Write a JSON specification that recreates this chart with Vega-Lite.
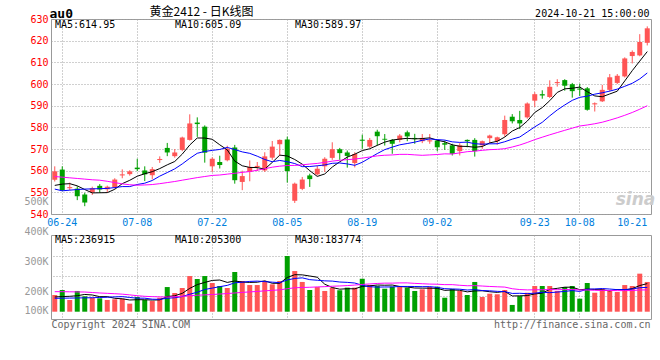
{
  "$schema": "https://vega.github.io/schema/vega-lite/v6.json",
  "padding": {"left": 23, "top": 4, "right": 2, "bottom": 2},
  "background": "white",
  "datasets": {
    "k": [
      {"d":"06-21","o":555.8,"h":562.0,"l":555.0,"c":559.7,"v":141000,"MA5":553.2,"MA10":551.5,"MA30":557.3,"VMA5":124000,"VMA10":113000,"VMA30":169000},
      {"d":"06-24","o":560.5,"h":562.0,"l":550.6,"c":551.0,"v":183000,"MA5":553.8,"MA10":550.7,"MA30":557.0,"VMA5":128000,"VMA10":114000,"VMA30":169000},
      {"d":"06-25","o":551.9,"h":554.5,"l":551.0,"c":552.4,"v":99000,"MA5":554.0,"MA10":551.0,"MA30":556.7,"VMA5":130000,"VMA10":115000,"VMA30":168000},
      {"d":"06-26","o":551.7,"h":552.8,"l":546.4,"c":548.2,"v":175000,"MA5":553.0,"MA10":551.3,"MA30":556.4,"VMA5":135000,"VMA10":116000,"VMA30":167000},
      {"d":"06-27","o":549.0,"h":549.8,"l":543.6,"c":545.3,"v":130000,"MA5":551.3,"MA10":551.5,"MA30":556.1,"VMA5":145600,"VMA10":117000,"VMA30":166000},
      {"d":"06-28","o":550.0,"h":552.6,"l":548.8,"c":551.9,"v":118000,"MA5":549.74,"MA10":551.6,"MA30":555.8,"VMA5":141000,"VMA10":118000,"VMA30":162000},
      {"d":"07-01","o":553.0,"h":553.8,"l":549.8,"c":551.3,"v":113000,"MA5":549.8,"MA10":551.7,"MA30":555.6,"VMA5":127000,"VMA10":120000,"VMA30":158000},
      {"d":"07-02","o":551.4,"h":553.1,"l":550.0,"c":552.6,"v":99000,"MA5":549.86,"MA10":551.8,"MA30":555.1,"VMA5":127000,"VMA10":122000,"VMA30":155000},
      {"d":"07-03","o":552.3,"h":556.5,"l":551.7,"c":555.9,"v":105000,"MA5":551.4,"MA10":552.2,"MA30":554.5,"VMA5":113000,"VMA10":125000,"VMA30":152000},
      {"d":"07-04","o":557.8,"h":560.6,"l":556.5,"c":558.3,"v":110000,"MA5":554.0,"MA10":552.65,"MA30":553.9,"VMA5":109000,"VMA10":127300,"VMA30":148000},
      {"d":"07-05","o":558.4,"h":560.2,"l":557.7,"c":559.7,"v":68000,"MA5":555.56,"MA10":552.65,"MA30":553.5,"VMA5":99000,"VMA10":120000,"VMA30":142000},
      {"d":"07-08","o":561.4,"h":565.5,"l":559.8,"c":560.7,"v":124000,"MA5":557.44,"MA10":553.62,"MA30":553.3,"VMA5":101200,"VMA10":114100,"VMA30":135000},
      {"d":"07-09","o":560.1,"h":562.0,"l":555.2,"c":558.3,"v":99000,"MA5":558.58,"MA10":554.22,"MA30":553.4,"VMA5":101200,"VMA10":114100,"VMA30":130000},
      {"d":"07-10","o":557.9,"h":561.7,"l":556.0,"c":560.7,"v":90000,"MA5":559.54,"MA10":555.47,"MA30":553.6,"VMA5":98200,"VMA10":105600,"VMA30":127000},
      {"d":"07-11","o":564.9,"h":566.6,"l":563.6,"c":565.4,"v":118000,"MA5":560.96,"MA10":557.48,"MA30":554.0,"VMA5":99800,"VMA10":104400,"VMA30":125000},
      {"d":"07-12","o":570.5,"h":572.8,"l":566.7,"c":568.4,"v":208000,"MA5":562.7,"MA10":559.13,"MA30":554.5,"VMA5":127800,"VMA10":113400,"VMA30":124000},
      {"d":"07-15","o":566.7,"h":570.0,"l":566.0,"c":568.4,"v":158000,"MA5":564.24,"MA10":560.84,"MA30":555.0,"VMA5":134600,"VMA10":117900,"VMA30":126000},
      {"d":"07-16","o":569.6,"h":575.7,"l":569.0,"c":575.3,"v":200000,"MA5":567.64,"MA10":563.11,"MA30":555.6,"VMA5":154800,"VMA10":128000,"VMA30":130000},
      {"d":"07-17","o":574.2,"h":586.0,"l":573.9,"c":581.8,"v":301000,"MA5":571.86,"MA10":565.7,"MA30":556.2,"VMA5":197000,"VMA10":147600,"VMA30":135000},
      {"d":"07-18","o":582.2,"h":584.6,"l":575.6,"c":581.5,"v":276000,"MA5":575.08,"MA10":568.02,"MA30":556.8,"VMA5":228600,"VMA10":164200,"VMA30":139000},
      {"d":"07-19","o":580.3,"h":580.9,"l":563.7,"c":568.3,"v":301000,"MA5":575.06,"MA10":568.88,"MA30":557.3,"VMA5":247200,"VMA10":187500,"VMA30":142000},
      {"d":"07-22","o":562.0,"h":566.2,"l":559.4,"c":565.5,"v":242000,"MA5":574.48,"MA10":569.36,"MA30":557.8,"VMA5":264000,"VMA10":199300,"VMA30":145000},
      {"d":"07-23","o":564.0,"h":566.9,"l":561.0,"c":562.6,"v":217000,"MA5":571.94,"MA10":569.79,"MA30":558.0,"VMA5":267400,"VMA10":211100,"VMA30":149000},
      {"d":"07-24","o":564.8,"h":571.5,"l":564.3,"c":570.1,"v":200000,"MA5":569.6,"MA10":570.73,"MA30":558.4,"VMA5":247200,"VMA10":222100,"VMA30":153000},
      {"d":"07-25","o":570.7,"h":571.9,"l":554.0,"c":555.6,"v":335000,"MA5":564.42,"MA10":569.75,"MA30":558.8,"VMA5":259000,"VMA10":243800,"VMA30":158000},
      {"d":"07-26","o":554.8,"h":560.0,"l":551.0,"c":557.5,"v":259000,"MA5":562.26,"MA10":568.66,"MA30":559.2,"VMA5":250600,"VMA10":248900,"VMA30":163000},
      {"d":"07-29","o":559.4,"h":564.7,"l":555.1,"c":561.7,"v":225000,"MA5":561.5,"MA10":567.99,"MA30":559.6,"VMA5":247200,"VMA10":255600,"VMA30":167000},
      {"d":"07-30","o":561.7,"h":564.0,"l":559.8,"c":562.2,"v":225000,"MA5":561.42,"MA10":566.68,"MA30":560.2,"VMA5":248800,"VMA10":258100,"VMA30":171000},
      {"d":"07-31","o":560.1,"h":568.5,"l":559.4,"c":566.6,"v":259000,"MA5":560.72,"MA10":565.16,"MA30":560.9,"VMA5":260600,"VMA10":253900,"VMA30":176000},
      {"d":"08-01","o":566.0,"h":573.7,"l":565.0,"c":571.1,"v":231000,"MA5":563.82,"MA10":564.12,"MA30":561.6,"VMA5":239800,"VMA10":249400,"VMA30":180300},
      {"d":"08-02","o":572.2,"h":574.4,"l":567.0,"c":574.2,"v":259000,"MA5":567.16,"MA10":564.71,"MA30":562.08,"VMA5":239800,"VMA10":245200,"VMA30":184200},
      {"d":"08-05","o":574.4,"h":575.7,"l":554.5,"c":559.8,"v":470000,"MA5":566.78,"MA10":564.14,"MA30":562.37,"VMA5":288800,"VMA10":268000,"VMA30":193800},
      {"d":"08-06","o":546.1,"h":554.5,"l":545.1,"c":554.0,"v":343000,"MA5":565.14,"MA10":563.28,"MA30":562.43,"VMA5":312400,"VMA10":280600,"VMA30":201900},
      {"d":"08-07","o":551.6,"h":557.1,"l":551.0,"c":555.9,"v":251000,"MA5":563.0,"MA10":561.86,"MA30":562.69,"VMA5":310800,"VMA10":285700,"VMA30":204500},
      {"d":"08-08","o":557.8,"h":558.6,"l":552.5,"c":556.1,"v":183000,"MA5":560.0,"MA10":561.91,"MA30":563.05,"VMA5":301200,"VMA10":270500,"VMA30":206200},
      {"d":"08-09","o":558.3,"h":562.3,"l":557.8,"c":560.9,"v":208000,"MA5":557.34,"MA10":562.25,"MA30":563.35,"VMA5":291000,"VMA10":265400,"VMA30":209200},
      {"d":"08-12","o":562.0,"h":566.2,"l":559.4,"c":565.5,"v":175000,"MA5":558.48,"MA10":562.63,"MA30":563.82,"VMA5":232000,"VMA10":260400,"VMA30":211300},
      {"d":"08-13","o":565.9,"h":573.1,"l":565.0,"c":569.9,"v":203000,"MA5":561.66,"MA10":563.4,"MA30":564.4,"VMA5":204000,"VMA10":258200,"VMA30":214800},
      {"d":"08-14","o":569.9,"h":570.5,"l":565.0,"c":568.1,"v":181000,"MA5":564.1,"MA10":563.55,"MA30":564.8,"VMA5":190000,"VMA10":250400,"VMA30":217300},
      {"d":"08-15","o":568.4,"h":569.3,"l":561.4,"c":566.8,"v":203000,"MA5":566.24,"MA10":563.12,"MA30":565.09,"VMA5":194000,"VMA10":247600,"VMA30":220400},
      {"d":"08-16","o":563.5,"h":568.5,"l":561.5,"c":567.7,"v":203000,"MA5":567.6,"MA10":562.47,"MA30":565.35,"VMA5":193000,"VMA10":242000,"VMA30":224900},
      {"d":"08-19","o":574.3,"h":576.6,"l":570.1,"c":573.8,"v":278000,"MA5":569.26,"MA10":563.87,"MA30":565.79,"VMA5":213600,"VMA10":222800,"VMA30":230000},
      {"d":"08-20","o":571.1,"h":575.1,"l":570.5,"c":574.2,"v":225000,"MA5":570.12,"MA10":565.89,"MA30":566.32,"VMA5":218000,"VMA10":211000,"VMA30":234200},
      {"d":"08-21","o":578.0,"h":578.9,"l":571.6,"c":575.9,"v":217000,"MA5":571.68,"MA10":567.89,"MA30":566.83,"VMA5":225200,"VMA10":207600,"VMA30":238500},
      {"d":"08-22","o":574.7,"h":576.9,"l":571.6,"c":574.3,"v":194000,"MA5":573.18,"MA10":569.71,"MA30":567.12,"VMA5":223400,"VMA10":208700,"VMA30":241000},
      {"d":"08-23","o":574.2,"h":574.6,"l":567.8,"c":572.4,"v":211000,"MA5":574.12,"MA10":570.86,"MA30":567.26,"VMA5":225000,"VMA10":209000,"VMA30":241100},
      {"d":"08-26","o":574.2,"h":576.9,"l":573.1,"c":576.2,"v":217000,"MA5":574.6,"MA10":571.93,"MA30":567.52,"VMA5":212800,"VMA10":213200,"VMA30":243100},
      {"d":"08-27","o":577.7,"h":578.5,"l":573.6,"c":575.8,"v":203000,"MA5":574.92,"MA10":572.52,"MA30":567.53,"VMA5":208400,"VMA10":213200,"VMA30":243200},
      {"d":"08-28","o":575.1,"h":577.0,"l":572.4,"c":574.6,"v":175000,"MA5":574.66,"MA10":573.17,"MA30":567.29,"VMA5":200000,"VMA10":212600,"VMA30":239000},
      {"d":"08-29","o":573.6,"h":576.9,"l":572.7,"c":575.1,"v":189000,"MA5":574.82,"MA10":574.0,"MA30":567.08,"VMA5":199000,"VMA10":211200,"VMA30":236100},
      {"d":"08-30","o":573.5,"h":576.9,"l":572.4,"c":574.0,"v":208000,"MA5":575.14,"MA10":574.63,"MA30":567.27,"VMA5":198400,"VMA10":211700,"VMA30":233000},
      {"d":"09-02","o":573.9,"h":574.2,"l":569.0,"c":570.8,"v":211000,"MA5":574.06,"MA10":574.33,"MA30":567.45,"VMA5":197200,"VMA10":205000,"VMA30":231900},
      {"d":"09-03","o":572.7,"h":573.9,"l":569.6,"c":572.0,"v":118000,"MA5":573.3,"MA10":574.11,"MA30":567.76,"VMA5":180200,"VMA10":194300,"VMA30":228600},
      {"d":"09-04","o":571.7,"h":572.4,"l":567.0,"c":567.8,"v":192000,"MA5":571.94,"MA10":573.3,"MA30":567.68,"VMA5":183600,"VMA10":191800,"VMA30":228400},
      {"d":"09-05","o":569.0,"h":572.7,"l":567.0,"c":571.7,"v":175000,"MA5":571.26,"MA10":573.04,"MA30":568.22,"VMA5":180800,"VMA10":189900,"VMA30":223000},
      {"d":"09-06","o":574.2,"h":574.4,"l":570.8,"c":573.6,"v":141000,"MA5":571.18,"MA10":573.16,"MA30":568.76,"VMA5":167400,"VMA10":182900,"VMA30":219100},
      {"d":"09-09","o":574.2,"h":575.0,"l":566.5,"c":569.0,"v":251000,"MA5":570.82,"MA10":572.44,"MA30":569.0,"VMA5":175400,"VMA10":186300,"VMA30":220000},
      {"d":"09-10","o":571.7,"h":573.9,"l":570.1,"c":573.6,"v":124000,"MA5":571.14,"MA10":572.22,"MA30":569.38,"VMA5":176600,"VMA10":178400,"VMA30":216600},
      {"d":"09-11","o":575.0,"h":576.6,"l":572.7,"c":576.2,"v":152000,"MA5":572.82,"MA10":572.38,"MA30":569.7,"VMA5":168600,"VMA10":176100,"VMA30":213000},
      {"d":"09-12","o":573.6,"h":575.7,"l":572.0,"c":575.4,"v":147000,"MA5":573.56,"MA10":572.41,"MA30":569.84,"VMA5":163000,"VMA10":171900,"VMA30":210200},
      {"d":"09-13","o":576.8,"h":585.4,"l":575.7,"c":583.4,"v":183000,"MA5":575.52,"MA10":573.35,"MA30":570.15,"VMA5":171400,"VMA10":169400,"VMA30":207700},
      {"d":"09-18","o":584.9,"h":586.1,"l":581.8,"c":582.8,"v":57000,"MA5":578.28,"MA10":574.55,"MA30":570.92,"VMA5":132600,"VMA10":154000,"VMA30":193900},
      {"d":"09-19","o":583.4,"h":587.6,"l":579.2,"c":581.8,"v":132000,"MA5":579.92,"MA10":575.53,"MA30":571.84,"VMA5":134200,"VMA10":155400,"VMA30":186900},
      {"d":"09-20","o":584.6,"h":591.5,"l":584.0,"c":591.0,"v":160000,"MA5":582.88,"MA10":577.85,"MA30":573.01,"VMA5":135800,"VMA10":152200,"VMA30":183900},
      {"d":"09-23","o":592.3,"h":596.2,"l":589.4,"c":595.3,"v":217000,"MA5":586.86,"MA10":580.21,"MA30":574.32,"VMA5":149800,"VMA10":156400,"VMA30":185000},
      {"d":"09-24","o":595.3,"h":597.1,"l":593.2,"c":594.7,"v":217000,"MA5":589.12,"MA10":582.32,"MA30":575.45,"VMA5":156600,"VMA10":164000,"VMA30":185300},
      {"d":"09-25","o":594.0,"h":601.7,"l":593.5,"c":598.7,"v":217000,"MA5":592.3,"MA10":585.29,"MA30":576.55,"VMA5":188600,"VMA10":160600,"VMA30":186700},
      {"d":"09-26","o":600.4,"h":602.2,"l":598.8,"c":600.9,"v":175000,"MA5":596.12,"MA10":588.02,"MA30":577.59,"VMA5":197200,"VMA10":165700,"VMA30":185800},
      {"d":"09-27","o":601.8,"h":602.2,"l":596.9,"c":599.2,"v":208000,"MA5":597.76,"MA10":590.32,"MA30":578.62,"VMA5":206800,"VMA10":171300,"VMA30":186700},
      {"d":"09-30","o":599.9,"h":600.5,"l":593.7,"c":596.7,"v":217000,"MA5":598.04,"MA10":592.45,"MA30":579.62,"VMA5":206800,"VMA10":178300,"VMA30":187100},
      {"d":"10-08","o":597.9,"h":600.1,"l":594.5,"c":597.4,"v":110000,"MA5":598.58,"MA10":593.85,"MA30":580.61,"VMA5":185400,"VMA10":171000,"VMA30":184000},
      {"d":"10-09","o":598.0,"h":598.6,"l":587.7,"c":588.1,"v":242000,"MA5":596.46,"MA10":594.38,"MA30":581.09,"VMA5":190400,"VMA10":189500,"VMA30":182800},
      {"d":"10-10","o":590.6,"h":591.5,"l":587.3,"c":591.1,"v":160000,"MA5":594.5,"MA10":595.31,"MA30":581.65,"VMA5":187400,"VMA10":192300,"VMA30":180700},
      {"d":"10-11","o":592.0,"h":599.6,"l":591.7,"c":597.3,"v":192000,"MA5":594.12,"MA10":595.94,"MA30":582.36,"VMA5":184200,"VMA10":195500,"VMA30":179800},
      {"d":"10-14","o":597.3,"h":604.6,"l":596.5,"c":603.1,"v":175000,"MA5":595.4,"MA10":596.72,"MA30":583.32,"VMA5":175800,"VMA10":191300,"VMA30":179200},
      {"d":"10-15","o":600.5,"h":604.6,"l":600.0,"c":603.8,"v":166000,"MA5":596.68,"MA10":597.63,"MA30":584.37,"VMA5":187000,"VMA10":186200,"VMA30":177700},
      {"d":"10-16","o":603.5,"h":612.3,"l":603.0,"c":611.8,"v":225000,"MA5":601.42,"MA10":598.94,"MA30":585.56,"VMA5":183600,"VMA10":187000,"VMA30":178000},
      {"d":"10-17","o":612.9,"h":615.5,"l":609.5,"c":614.8,"v":217000,"MA5":606.16,"MA10":600.33,"MA30":586.86,"VMA5":195000,"VMA10":191200,"VMA30":178400},
      {"d":"10-18","o":613.2,"h":623.0,"l":612.8,"c":619.4,"v":321000,"MA5":610.58,"MA10":602.35,"MA30":588.35,"VMA5":220800,"VMA10":202500,"VMA30":183300},
      {"d":"10-21","o":619.0,"h":626.6,"l":617.8,"c":625.7,"v":251000,"MA5":614.95,"MA10":605.09,"MA30":589.97,"VMA5":236915,"VMA10":205300,"VMA30":183774}
    ]
  },
  "vconcat": [
    {
      "width": 600,
      "height": 195,
      "data": {"name": "k"},
      "layer": [
        {
          "mark": {"type": "rule", "strokeWidth": 1},
          "encoding": {
            "x": {
              "field": "d", "type": "ordinal",
              "scale": {"paddingInner": 0, "paddingOuter": 0},
              "axis": {
                "orient": "bottom",
                "values": ["06-24","07-08","07-22","08-05","08-19","09-02","09-23","10-08","10-21"],
                "labelAngle": 0, "labelColor": "#0080dd", "labelOverlap": false,
                "labelAlign": {"condition": {"test": "datum.value === '10-21'", "value": "right"}, "value": "center"},
                "grid": true, "bandPosition": 0.5,
                "gridOpacity": {"condition": {"test": "datum.value === '10-21'", "value": 0}, "value": 1},
                "title": "sina", "titleX": 584, "titleY": -10, "titleAlign": "center", "titleBaseline": "alphabetic",
                "titleColor": "#cccccc", "titleFont": "DejaVu Sans", "titleFontSize": 17, "titleFontStyle": "italic", "titleFontWeight": "bold"
              }
            },
            "y": {
              "field": "l", "type": "quantitative",
              "scale": {"domain": [540, 630], "nice": false, "zero": false},
              "axis": {
                "orient": "left",
                "values": [540, 550, 560, 570, 580, 590, 600, 610, 620, 630],
                "labelColor": "#ff0000", "labelFlush": false, "grid": true,
                "title": "au0", "titleAngle": 0, "titleX": -2, "titleY": -2, "titleAlign": "left", "titleBaseline": "alphabetic",
                "titleFontSize": 13, "titleFontWeight": "bold", "titleColor": "#000000"
              }
            },
            "y2": {"field": "h"},
            "color": {"condition": {"test": "datum.c >= datum.o", "value": "#ff5555"}, "value": "#00a000"}
          }
        },
        {
          "mark": {"type": "bar", "width": 5},
          "encoding": {
            "x": {"field": "d", "type": "ordinal", "axis": null},
            "y": {"field": "o", "type": "quantitative", "axis": null},
            "y2": {"field": "c"},
            "color": {"condition": {"test": "datum.c >= datum.o", "value": "#ff5555"}, "value": "#00a000"}
          }
        },
        {
          "transform": [{"fold": ["MA5", "MA10", "MA30"], "as": ["key", "value"]}],
          "mark": {"type": "line", "strokeWidth": 1},
          "encoding": {
            "x": {"field": "d", "type": "ordinal", "axis": null},
            "y": {"field": "value", "type": "quantitative", "axis": null},
            "color": {
              "field": "key", "type": "nominal",
              "scale": {"domain": ["MA5", "MA10", "MA30"], "range": ["#000000", "#0000ff", "#ff00ff"]},
              "legend": {
                "orient": "none", "legendX": -6, "legendY": -4, "direction": "horizontal", "title": null, "padding": 0,
                "symbolSize": 0, "symbolOpacity": 0, "symbolStrokeWidth": 0, "labelOffset": 0,
                "columnPadding": 43, "gridAlign": "all", "labelBaseline": "top",
                "labelFont": "DejaVu Sans Mono", "labelFontSize": 10,
                "labelExpr": "datum.value === 'MA5' ? 'MA5:614.95' : datum.value === 'MA10' ? 'MA10:605.09' : 'MA30:589.97'",
                "encode": {"labels": {"fill": {"condition": [{"test": "datum.value === 'MA5'", "value": "#000000"}, {"test": "datum.value === 'MA10'", "value": "#0000ff"}], "value": "#ff00ff"}}}
              }
            }
          }
        },
        {
          "mark": {"type": "point", "opacity": 0, "size": 1},
          "encoding": {
            "x": {
              "field": "d", "type": "ordinal",
              "axis": {
                "orient": "top", "labels": false, "grid": false,
                "title": "黄金2412 - 日K线图", "titleX": 150, "titleY": -4, "titleAlign": "center", "titleBaseline": "alphabetic",
                "titleFont": "Noto Sans CJK SC", "titleFontSize": 12, "titleFontWeight": "normal", "titleColor": "#000000"
              }
            },
            "y": {
              "field": "c", "type": "quantitative",
              "axis": {
                "orient": "right", "labels": false, "grid": false,
                "title": "2024-10-21 15:00:00", "titleAngle": 0, "titleX": -2, "titleY": -3, "titleAlign": "right", "titleBaseline": "alphabetic",
                "titleColor": "#000000", "titleFontSize": 10
              }
            }
          }
        }
      ],
      "resolve": {"axis": {"x": "independent", "y": "independent"}}
    },
    {
      "width": 600,
      "height": 84,
      "data": {"name": "k"},
      "layer": [
        {
          "mark": {"type": "bar", "width": 5},
          "encoding": {
            "x": {
              "field": "d", "type": "ordinal",
              "scale": {"paddingInner": 0, "paddingOuter": 0},
              "axis": {
                "orient": "bottom",
                "values": ["06-24","07-08","07-22","08-05","08-19","09-02","09-23","10-08"],
                "labels": false, "grid": true, "bandPosition": 0.5,
                "title": "Copyright 2024 SINA.COM", "titleX": 0, "titleY": 8, "titleAlign": "left", "titleBaseline": "alphabetic",
                "titleColor": "#666666", "titleFontSize": 10
              }
            },
            "y": {
              "field": "v", "type": "quantitative",
              "scale": {"domain": [-61600, 647300], "nice": false, "zero": false},
              "axis": {
                "orient": "right", "values": [132500, 301000, 470000], "labels": false, "grid": true,
                "title": "http://finance.sina.com.cn", "titleAngle": 0, "titleX": -1, "titleY": 92, "titleAlign": "right", "titleBaseline": "alphabetic",
                "titleColor": "#666666", "titleFontSize": 10
              }
            },
            "y2": {"datum": 0},
            "color": {"condition": {"test": "datum.c >= datum.o", "value": "#ff5555"}, "value": "#00a000"}
          }
        },
        {
          "transform": [{"fold": ["VMA5", "VMA10", "VMA30"], "as": ["key", "value"]}],
          "mark": {"type": "line", "strokeWidth": 1},
          "encoding": {
            "x": {"field": "d", "type": "ordinal", "axis": null},
            "y": {"field": "value", "type": "quantitative", "scale": {"domain": [-61600, 647300], "nice": false, "zero": false}, "axis": null},
            "color": {
              "field": "key", "type": "nominal",
              "scale": {"domain": ["VMA5", "VMA10", "VMA30"], "range": ["#000000", "#0000ff", "#ff00ff"]},
              "legend": {
                "orient": "none", "legendX": -6, "legendY": -4.7, "direction": "horizontal", "title": null, "padding": 0,
                "symbolSize": 0, "symbolOpacity": 0, "symbolStrokeWidth": 0, "labelOffset": 0,
                "columnPadding": 43, "gridAlign": "all", "labelBaseline": "top",
                "labelFont": "DejaVu Sans Mono", "labelFontSize": 10,
                "labelExpr": "datum.value === 'VMA5' ? 'MA5:236915' : datum.value === 'VMA10' ? 'MA10:205300' : 'MA30:183774'",
                "encode": {"labels": {"fill": {"condition": [{"test": "datum.value === 'VMA5'", "value": "#000000"}, {"test": "datum.value === 'VMA10'", "value": "#0000ff"}], "value": "#ff00ff"}}}
              }
            }
          }
        },
        {
          "mark": {"type": "rule", "opacity": 0},
          "encoding": {
            "y": {
              "datum": 200000, "type": "quantitative",
              "scale": {"domain": [95000, 505000], "range": [88.44, -35.51], "nice": false, "zero": false},
              "axis": {
                "orient": "left", "values": [100000, 200000, 300000, 400000, 500000],
                "labelExpr": "(datum.value / 1000) + 'K'", "labelColor": "#999999", "labelFlush": false, "labelOverlap": false,
                "grid": false, "title": null,
                "labelOffset": {"condition": {"test": "datum.value === 100000", "value": -11}, "value": 0}
              }
            }
          }
        }
      ],
      "resolve": {"scale": {"y": "independent"}, "axis": {"x": "independent", "y": "independent"}}
    }
  ],
  "spacing": 21,
  "bounds": "flush",
  "resolve": {"scale": {"color": "independent", "x": "independent"}, "legend": {"color": "independent"}},
  "config": {
    "font": "DejaVu Sans Mono",
    "view": {"stroke": "#999999", "strokeWidth": 1},
    "axis": {
      "ticks": false, "domain": false,
      "labelFont": "DejaVu Sans Mono", "labelFontSize": 10, "labelPadding": 3,
      "titleFont": "DejaVu Sans Mono", "titleFontSize": 10, "titleFontWeight": "normal",
      "gridColor": "#a0a0a0", "gridDash": [1, 2], "gridWidth": 1
    }
  }
}
